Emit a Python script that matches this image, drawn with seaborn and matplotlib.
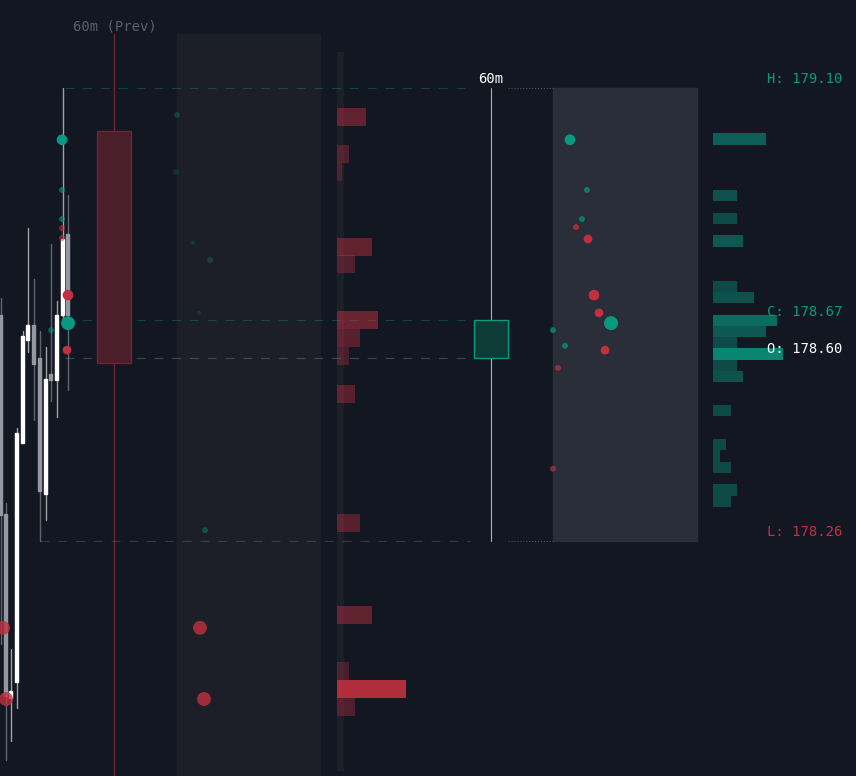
import matplotlib
matplotlib.use("Agg")
import matplotlib.pyplot as plt
import seaborn as sns
import pandas as pd
import numpy as np
from matplotlib.patches import Rectangle

sns.set_theme(style="dark")
plt.rcParams['font.family'] = ['DejaVu Sans Mono', 'DejaVu Sans']

BG = "#131722"
TEAL = "#089981"
RED = "#c23040"

# session values
H, L, C, O = 179.10, 178.26, 178.67, 178.60
prev_open, prev_close = 179.02, 178.59

# candles (x slot, open, high, low, close, up)
cx = [1, 6, 11, 17, 23, 28, 34, 40, 46, 51, 57, 63, 68]
c_open = [178.679, 178.310, 177.969, 177.999, 178.442, 178.633, 178.661, 178.599, 178.347, 178.570, 178.559, 178.679, 178.829]
c_close = [178.308, 177.973, 177.982, 178.460, 178.640, 178.661, 178.588, 178.353, 178.560, 178.559, 178.679, 178.820, 178.679]
c_high = [178.71, 178.330, 178.060, 178.470, 178.649, 178.840, 178.746, 178.649, 178.620, 178.811, 178.705, 179.10, 178.902]
c_low = [178.069, 177.854, 177.889, 177.950, 178.610, 178.610, 178.484, 178.260, 178.299, 178.520, 178.490, 178.67, 178.540]
c_col = ["#9598a1", "#9598a1", "#ffffff", "#ffffff", "#ffffff", "#ffffff", "#9598a1", "#9598a1", "#ffffff", "#9598a1", "#ffffff", "#ffffff", "#9598a1"]

# right (current) volume profile
g_price = [179.10 - 0.021 * (k + 0.5) for k in [4, 9, 11, 13, 17, 18, 20, 21, 22, 23, 24, 25, 28, 31, 32, 33, 35, 36]]
g_width = [53, 24, 24, 30, 24, 41, 64, 53, 24, 70, 24, 30, 18, 13, 7, 18, 24, 18]
g_alpha = [0.55, 0.45, 0.4, 0.5, 0.4, 0.45, 0.65, 0.5, 0.4, 0.85, 0.4, 0.45, 0.4, 0.4, 0.4, 0.4, 0.4, 0.4]

# middle (previous) volume profile
r_price = [179.047, 178.978, 178.944, 178.806, 178.773, 178.670, 178.636, 178.603, 178.533, 178.293, 178.123, 178.019, 177.986, 177.952]
r_width = [29, 12, 5, 35, 18, 41, 23, 12, 18, 23, 35, 12, 69, 18]
r_alpha = [0.45, 0.35, 0.3, 0.45, 0.35, 0.5, 0.4, 0.3, 0.4, 0.4, 0.45, 0.3, 0.9, 0.35]

# bubbles
b_x = [570, 587, 582, 553, 565, 611, 576, 588, 594, 599, 605, 558, 553,
       62, 62, 62, 68, 51, 68, 67, 62, 62,
       177, 176, 193, 210, 199, 205, 200, 204, 3, 6]
b_p = [179.004, 178.911, 178.857, 178.651, 178.622, 178.664, 178.842, 178.820, 178.716, 178.683, 178.614, 178.581, 178.394,
       179.004, 178.911, 178.857, 178.664, 178.651, 178.716, 178.614, 178.840, 178.822,
       179.050, 178.944, 178.813, 178.781, 178.683, 178.280, 178.099, 177.967, 178.099, 177.967]
b_s = [4, 2, 2, 2, 2, 6, 2, 3, 4, 3, 3, 2, 2,
       4, 2, 2, 6, 2, 4, 3, 2, 2,
       2, 2, 1.5, 2, 1.5, 2, 6, 6, 6, 6]
b_side = ["buy"] * 6 + ["sell"] * 7 + ["buy", "buy", "buy", "buy", "buy", "sell", "sell", "sell", "sell"] + \
         ["buy"] * 6 + ["sell"] * 4
b_alpha = [1, .7, .7, .7, .7, 1, .8, 1, 1, 1, 1, .7, .7,
           1, .6, .6, 1, .5, 1, 1, .6, .6,
           .3, .2, .2, .3, .2, .4, .8, .8, .8, .8]

px = 0.0018543
ytop = H + 88 * px
ybot = H - 688 * px

fig = plt.figure(figsize=(8.56, 7.76), dpi=100, facecolor=BG)
ax = fig.add_axes([0, 0, 1, 1])
ax.set_facecolor(BG)

# shaded regions
ax.add_patch(Rectangle((177, ybot), 143, ytop - 34 * px - ybot, color="#1c1f27", zorder=0))
ax.add_patch(Rectangle((553, L), 144, H - L, color="#2a2e39", zorder=0))
ax.add_patch(Rectangle((337, ybot + 6 * px), 6, ytop - 52 * px - ybot - 6 * px, color="#1d1f29", zorder=0.5))

# level lines
ax.plot([65, 470], [H, H], ls=(0, (8, 8)), color=TEAL, alpha=0.35, lw=0.8)
ax.plot([40, 470], [L, L], ls=(0, (8, 8)), color="#787b86", alpha=0.35, lw=0.8)
ax.plot([65, 474], [C, C], ls=(0, (8, 8)), color=TEAL, alpha=0.35, lw=0.8)
ax.plot([65, 474], [O, O], ls=(0, (8, 8)), color="#787b86", alpha=0.45, lw=0.8)
ax.plot([508, 553], [H, H], ls=":", color="#787b86", alpha=0.6, lw=0.8)
ax.plot([508, 553], [L, L], ls=":", color="#787b86", alpha=0.6, lw=0.8)

# prev session
ax.plot([114, 114], [ybot, ytop - 34 * px], color=RED, alpha=0.5, lw=1)
ax.add_patch(Rectangle((97, prev_close), 34, prev_open - prev_close, facecolor="#4a1f2b", edgecolor="#6b2633", lw=1, zorder=2))
ax.text(73, ytop - 26 * px, "60m (Prev)", color="#5d606b", fontsize=10, va="center", ha="left")

# current session
ax.plot([491, 491], [L, H], color="#d1d4dc", lw=0.8, alpha=0.8)
ax.add_patch(Rectangle((474, O), 34, C - O, facecolor="#0d3b35", edgecolor=TEAL, lw=1, zorder=2))
ax.text(491, H + 9 * px, "60m", color="#ffffff", fontsize=10, ha="center", va="center")

# candles
for x, o, h, l, c, col in zip(cx, c_open, c_high, c_low, c_close, c_col):
    ax.plot([x, x], [l, h], color=col, lw=1, alpha=0.6, zorder=3)
    ax.add_patch(Rectangle((x - 1.5, min(o, c)), 3, max(abs(c - o), 0.004), color=col, zorder=4))

# profiles
for p, w, a in zip(g_price, g_width, g_alpha):
    ax.add_patch(Rectangle((713, p - 0.0105), w, 0.021, color=TEAL, alpha=a, lw=0, zorder=2))
for p, w, a in zip(r_price, r_width, r_alpha):
    ax.add_patch(Rectangle((337, p - 0.0167), w, 0.0334, color=RED, alpha=a, lw=0, zorder=2))

# bubbles
df = pd.DataFrame({"x": b_x, "p": b_p, "s": b_s, "side": b_side, "a": b_alpha})
for a, sub in df.groupby("a"):
    sns.scatterplot(data=sub, x="x", y="p", hue="side", size="s", sizes=(8, 100), size_norm=(1.5, 6),
                    palette={"buy": TEAL, "sell": RED}, alpha=a, edgecolor="none", legend=False, ax=ax, zorder=5)
ax.set_xlim(0, 856)
ax.set_ylim(ybot, ytop)
ax.axis("off")

# labels
ax.text(842, H + 9 * px, f"H: {H:.2f}", color=TEAL, fontsize=10, ha="right", va="center")
ax.text(842, C + 8 * px, f"C: {C:.2f}", color=TEAL, fontsize=10, ha="right", va="center")
ax.text(842, O + 9 * px, f"O: {O:.2f}", color="#ffffff", fontsize=10, ha="right", va="center")
ax.text(842, L + 9 * px, f"L: {L:.2f}", color=RED, fontsize=10, ha="right", va="center")

fig.savefig("out.png", dpi=100, facecolor=BG)
